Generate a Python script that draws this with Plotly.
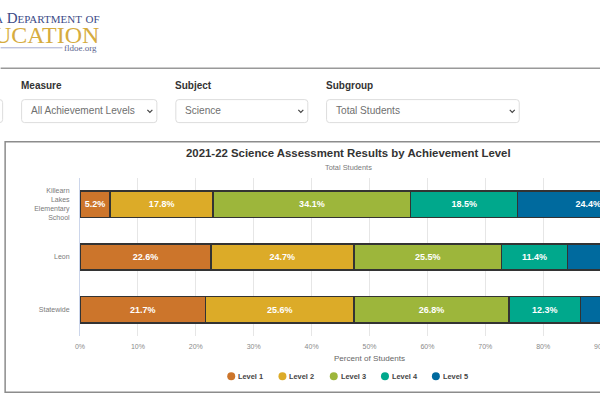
import plotly.graph_objects as go


def main():
    """Build the assessment results page section."""
    # Plot area in page pixels (the chart runs past the right edge of the window)
    left, right, top, bottom = 79.5, 659.5, 177.7, 335.7

    def px(x):
        return (x - left) / (right - left)

    def py(y):
        return (bottom - y) / (bottom - top)

    schools = ["Killearn<br>Lakes<br>Elementary<br>School", "Leon", "Statewide"]
    niveis = {
        "Level 1": ([5.2, 22.6, 21.7], "#CC752B"),
        "Level 2": ([17.8, 24.7, 25.6], "#DCAB28"),
        "Level 3": ([34.1, 25.5, 26.8], "#9DB63B"),
        "Level 4": ([18.5, 11.4, 12.3], "#00A88C"),
        "Level 5": ([24.4, 15.8, 13.6], "#006A9E"),
    }

    sans = "Liberation Sans, Arial, sans-serif"
    serif = "Liberation Serif, Times New Roman, serif"

    fig = go.Figure()

    for nivel, (valores, cor) in niveis.items():
        fig.add_trace(
            go.Bar(
                x=valores,
                y=schools,
                orientation="h",
                name=nivel,
                width=0.5,
                showlegend=False,
                marker=dict(color=cor, line=dict(color="#333333", width=1.5)),
                text=[f"{v}%" for v in valores],
                textposition="inside",
                insidetextanchor="middle",
                textangle=0,
                textfont=dict(family=sans, size=9, color="white", weight="bold"),
            )
        )

    shapes = [
        # Header rule and chart card
        dict(type="line", x0=px(0), x1=px(800), y0=py(68), y1=py(68), line=dict(color="#999999", width=1.5)),
        dict(type="rect", x0=px(4.5), x1=px(730), y0=py(141.5), y1=py(392), line=dict(color="#8c8c8c", width=1.5), layer="below"),
        # Line under the logo
        dict(type="line", x0=px(0), x1=px(62), y0=py(47.5), y1=py(47.5), line=dict(color="#A4ACD0", width=1)),
    ]

    anotacoes = [
        dict(text="a Department of", x=px(101.5), y=py(18), xanchor="right", font=dict(family=serif, size=15, color="#3C4A86", variant="small-caps")),
        dict(text="UCATION", x=px(101), y=py(34.5), xanchor="right", font=dict(family=serif, size=24, color="#D6AC3F")),
        dict(text="fldoe.org", x=px(99), y=py(47.5), xanchor="right", font=dict(family=serif, size=9, color="#5C668F")),
        dict(text="<b>2021-22 Science Assessment Results by Achievement Level</b>", x=px(348.5), y=py(152.5), font=dict(family=sans, size=11.4, color="#333333")),
        dict(text="Total Students", x=px(348.5), y=py(167), font=dict(family=sans, size=7.4, color="#7a7a7a")),
    ]

    # Filter boxes: label, selected text, left and right edge
    filtros = [
        (None, None, -100, 2),
        ("Measure", "All Achievement Levels", 21, 156.5),
        ("Subject", "Science", 175.5, 307.7),
        ("Subgroup", "Total Students", 326.5, 519.5),
    ]
    y0, y1, r = 99.3, 122.3, 3
    for rotulo, valor, x0, x1 in filtros:
        # Box with rounded corners
        caixa = (
            f"M {px(x0 + r)} {py(y0)} L {px(x1 - r)} {py(y0)} Q {px(x1)} {py(y0)} {px(x1)} {py(y0 + r)} "
            f"L {px(x1)} {py(y1 - r)} Q {px(x1)} {py(y1)} {px(x1 - r)} {py(y1)} "
            f"L {px(x0 + r)} {py(y1)} Q {px(x0)} {py(y1)} {px(x0)} {py(y1 - r)} "
            f"L {px(x0)} {py(y0 + r)} Q {px(x0)} {py(y0)} {px(x0 + r)} {py(y0)} Z"
        )
        shapes.append(dict(type="path", path=caixa, line=dict(color="#dddddd", width=1)))
        if rotulo is None:
            continue
        anotacoes.append(
            dict(text=f"<b>{rotulo}</b>", x=px(x0 - 3), y=py(85.5), xanchor="left", font=dict(family=sans, size=10, color="#333333"))
        )
        anotacoes.append(
            dict(text=valor, x=px(x0 + 7.5), y=py(110), xanchor="left", font=dict(family=sans, size=10.1, color="#6f6f6f"))
        )
        # Chevron of the select box
        cx = x1 - 7
        shapes.append(
            dict(
                type="path",
                path=f"M {px(cx - 2.5)} {py(109.5)} L {px(cx)} {py(112)} L {px(cx + 2.5)} {py(109.5)}",
                line=dict(color="#444444", width=1.2),
            )
        )

    # Legend with circles and close labels, drawn by hand
    pos_legenda = [231, 282.3, 333.7, 385, 436]
    for (nivel, (valores, cor)), lx in zip(niveis.items(), pos_legenda):
        shapes.append(
            dict(type="circle", x0=px(lx - 4), x1=px(lx + 4), y0=py(372), y1=py(380), fillcolor=cor, line=dict(width=0))
        )
        anotacoes.append(
            dict(text=f"<b>{nivel}</b>", x=px(lx + 5), y=py(376), xanchor="left", font=dict(family=sans, size=7.4, color="#444444"))
        )

    for s in shapes:
        s.update(xref="paper", yref="paper")
    for a in anotacoes:
        a.update(xref="paper", yref="paper", showarrow=False, yanchor="middle")

    fig.update_layout(
        width=760,
        height=400,
        barmode="stack",
        bargap=0.5,
        showlegend=False,
        paper_bgcolor="white",
        plot_bgcolor="white",
        margin=dict(l=left, r=760 - right, t=top, b=400 - bottom, pad=0),
        font=dict(family=sans),
        shapes=shapes,
        annotations=anotacoes,
        xaxis=dict(
            range=[0, 100],
            dtick=10,
            ticksuffix="%",
            showgrid=True,
            gridcolor="#E6E6E6",
            gridwidth=1,
            zeroline=False,
            showline=False,
            ticks="outside",
            ticklen=4,
            tickcolor="rgba(0,0,0,0)",
            tickfont=dict(family=sans, size=7, color="#8a8a8a"),
            title=dict(
                text="Percent of Students",
                standoff=5,
                font=dict(family=sans, size=8.1, color="#666666"),
            ),
        ),
        yaxis=dict(
            autorange="reversed",
            showgrid=False,
            showline=True,
            linecolor="#CCD6EB",
            linewidth=1,
            ticks="",
            ticklabelstandoff=8,
            tickfont=dict(family=sans, size=7, color="#7a7a7a"),
        ),
    )

    fig.write_html(
        "out.html",
        config={"displayModeBar": False},
        post_script="document.body.style.margin='0';document.documentElement.style.overflow='hidden';",
    )


if __name__ == "__main__":
    main()
